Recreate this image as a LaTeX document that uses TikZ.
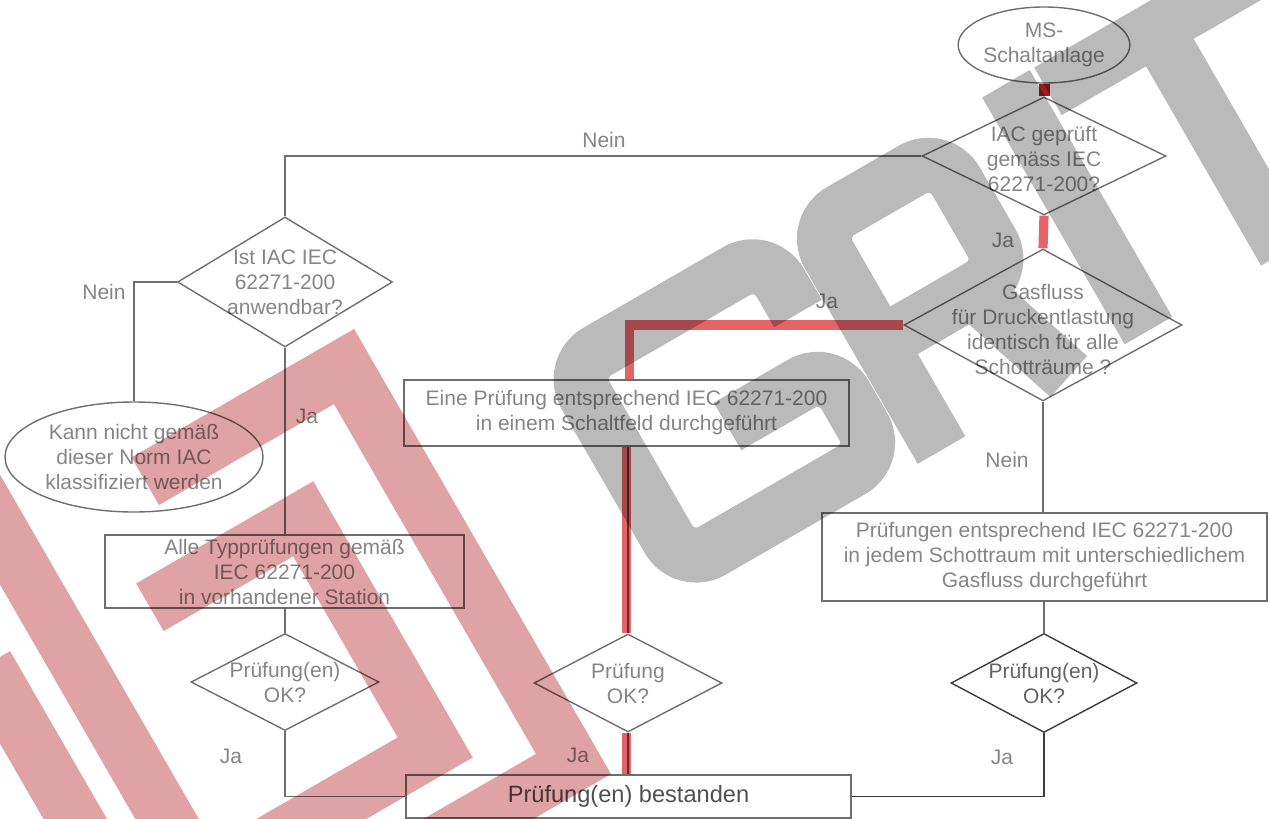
\documentclass[tikz,border=0pt]{standalone}
\usepackage{fontspec}
\setmainfont{Liberation Sans}
\usetikzlibrary{shapes.geometric}
\definecolor{lineg}{HTML}{6E6E6E}
\definecolor{lined}{HTML}{3C3C3C}
\definecolor{textg}{HTML}{858585}
\definecolor{redl}{HTML}{E46467}
\definecolor{redd}{HTML}{9E1B1F}
\definecolor{wmgrey}{HTML}{BABABA}
\definecolor{wmred}{HTML}{E0A3A5}
\tikzset{
 box/.style={rectangle, draw=lineg, line width=0.7pt, inner sep=0pt, align=center,
  text=textg, font=\fontsize{10.5}{12.5}\selectfont},
 dia/.style={diamond, draw=lineg, line width=0.7pt, inner sep=0pt},
 term/.style={ellipse, draw=lineg, line width=0.7pt, inner sep=0pt, align=center,
  text=textg, font=\fontsize{10.5}{12.5}\selectfont},
 txt/.style={align=center, text=textg, inner sep=0pt, font=\fontsize{10.5}{12.5}\selectfont},
 lbl/.style={text=textg, inner sep=0pt, font=\fontsize{10.5}{12.5}\selectfont},
 conn/.style={draw=lineg, line width=0.7pt},
 hl/.style={line width=4.6pt, draw=redl},
 hldark/.style={line width=5.5pt, draw=redd},
 letter/.style={line width=27.5pt, draw=wmgrey, rounded corners=16pt},
 stripe/.style={line width=27.5pt, draw=wmred},
}

\begin{document}
\begin{tikzpicture}[x=0.5pt, y=-0.5pt]
    \useasboundingbox (0,0) rectangle (1269,819);

    % watermark: square spiral
    \begin{scope}[shift={(260,680)}, rotate=30]
        \draw[stripe] (0,-229.5) -- (229.5,-229.5) -- (229.5,229.5) -- (-229.5,229.5) -- (-229.5,-150);
        \draw[stripe] (-59,-118) -- (118,-118) -- (118,146) -- (-150,146) -- (-150,-400);
    \end{scope}
    % watermark: GRIT
    \begin{scope}[shift={(770,220)}, rotate=30]
        \draw[letter] (-22.5,95) -- (-22.5,27.5) -- (-247.5,27.5) -- (-247.5,257.5)
            -- (-22.5,257.5) -- (-22.5,157.5) -- (-140,157.5);
        \draw[letter] (33.5,285) -- (33.5,27.5) -- (180.5,27.5) -- (180.5,162.5) -- (33.5,162.5);
        \draw[letter, rounded corners=0pt] (140,162.5) -- (180.5,285);
        \draw[letter] (272.5,0) -- (272.5,285);
        \draw[letter] (305,27.5) -- (555,27.5);
        \draw[letter] (430,27.5) -- (430,285);
    \end{scope}

    \begin{scope}[blend mode=multiply]
    % right column
    \node[term, minimum width=79pt, minimum height=38pt] (ms) at (1044,45) {MS-\\Schaltanlage};
    \node[dia, minimum width=122pt, minimum height=59pt] (d1) at (1044,156) {};
    \node[txt] (t1) at (1044,159) {IAC geprüft\\gemäss IEC\\62271-200?};
    \node[dia, minimum width=139pt, minimum height=76pt] (d2) at (1043,325) {};
    \node[txt] (t2) at (1043,329) {Gasfluss\\für Druckentlastung\\identisch für alle\\Schotträume ?};
    \node[box, minimum width=222.5pt, minimum height=44pt] (b3) at (1044.5,557)
        {Prüfungen entsprechend IEC 62271-200\\in jedem Schottraum mit unterschiedlichem\\Gasfluss durchgeführt};
    \node[dia, draw=lined, minimum width=93pt, minimum height=49.5pt] (d4) at (1044,683) {};
    \node[txt, text=lined!80] (t4) at (1044,683) {Prüfung(en)\\OK?};

    % middle column
    \node[box, minimum width=222.5pt, minimum height=33pt] (b1) at (626.5,413)
        {Eine Prüfung entsprechend IEC 62271-200\\in einem Schaltfeld durchgeführt};
    \node[dia, minimum width=94pt, minimum height=49pt] (d3) at (628,683) {};
    \node[txt] (t3) at (628,683) {Prüfung\\OK?};
    \node[box, minimum width=222.5pt, minimum height=21.5pt, text=lined!90,
        font=\fontsize{11.8}{13}\selectfont] (b2) at (628.5,796.5) {Prüfung(en) bestanden};

    % left column
    \node[dia, minimum width=107.5pt, minimum height=65pt] (d5) at (285,282) {};
    \node[txt] (t5) at (285,282) {Ist IAC IEC\\62271-200\\anwendbar?};
    \node[term, minimum width=129pt, minimum height=55pt] (e2) at (134,457)
        {Kann nicht gemäß\\dieser Norm IAC\\klassifiziert werden};
    \node[box, minimum width=179.5pt, minimum height=36.5pt] (b4) at (284.5,571.5)
        {Alle Typprüfungen gemäß\\IEC 62271-200\\in vorhandener Station};
    \node[dia, minimum width=94pt, minimum height=48.5pt] (d6) at (285,682) {};
    \node[txt] (t6) at (285,682) {Prüfung(en)\\OK?};

    % connectors
    \draw[hldark] (ms.south) -- (d1.north);
    \draw[hl] (d1.south) -- (d2.north);
    \draw[hl] (d2.west) -| (b1.north -| 629.5,0);
    \draw[hl] (b1.south -| 626.5,0) -- (d3.north -| 626.5,0);
    \draw[hl] (d3.south -| 626.5,0) -- (b2.north -| 626.5,0);
    \draw[conn] (b1.south -| 628,0) -- (d3.north);
    \draw[conn] (d3.south) -- (b2.north -| 628,0);
    \draw[conn] (d2.south) -- (b3.north -| d2.south);
    \draw[conn] (b3.south -| d4.north) -- (d4.north);
    \draw[conn, draw=lined] (d4.south) |- (b2.east);
    \draw[conn] (d1.west) -| (d5.north);
    \draw[conn] (d5.west) -| (e2.north);
    \draw[conn] (d5.south) -- (b4.north -| d5.south);
    \draw[conn] (b4.south -| d6.north) -- (d6.north);
    \draw[conn] (d6.south) |- (b2.west);

    % labels
    \node[lbl] (ja1) at (1003,240) {Ja};
    \node[lbl] (ja2) at (827,301) {Ja};
    \node[lbl] (nein1) at (1007,460) {Nein};
    \node[lbl] (ja3) at (578,755) {Ja};
    \node[lbl] (ja4) at (1002,757) {Ja};
    \node[lbl] (nein2) at (604,140) {Nein};
    \node[lbl] (nein3) at (104,292) {Nein};
    \node[lbl] (ja5) at (307,416) {Ja};
    \node[lbl] (ja6) at (231,756) {Ja};
    \end{scope}
\end{tikzpicture}
\end{document}
